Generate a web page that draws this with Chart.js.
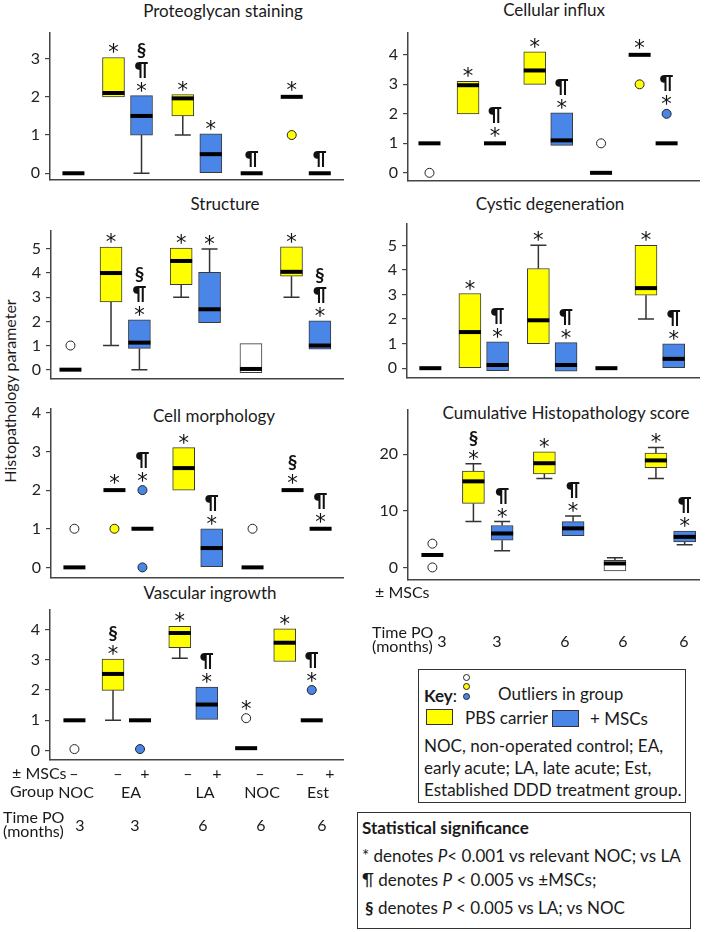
<!DOCTYPE html>
<html>
<head>
<meta charset="utf-8">
<script src="https://cdn.jsdelivr.net/npm/chart.js@4.4.1/dist/chart.umd.min.js"></script>
<style>
  body { margin: 0; background: #fff; font-family: Lato, 'Open Sans', sans-serif; color: #1a1a1a; }
  #page { position: relative; width: 709px; height: 932px; overflow: hidden; }
  #page canvas { position: absolute; }
  .c { position: absolute; white-space: nowrap; line-height: 1; transform: translate(-50%, -50%); }
  .l { position: absolute; white-space: nowrap; line-height: 1; transform: translateY(-50%); }
  .title { font-size: 17px; }
  .axis { font-size: 16px; }
  .boxtxt { font-size: 17px; }
  .frame { position: absolute; box-sizing: border-box; border: 1.5px solid #333; }
  .dot { position: absolute; width: 7px; height: 7px; border-radius: 50%; border: 1px solid #222; box-sizing: border-box; }
  .swatch { position: absolute; box-sizing: border-box; border: 1px solid #333; }
</style>
</head>
<body>
<div id="page">
  <div class="c title" style="left:223px;top:10px">Proteoglycan staining</div>
  <div class="c title" style="left:554px;top:9px">Cellular influx</div>
  <div class="c title" style="left:225px;top:203px">Structure</div>
  <div class="c title" style="left:550px;top:203px">Cystic degeneration</div>
  <div class="c title" style="left:214px;top:415px">Cell morphology</div>
  <div class="c title" style="left:566px;top:412px">Cumulative Histopathology score</div>
  <div class="c title" style="left:210px;top:592px">Vascular ingrowth</div>
  <div class="c axis" style="left:10px;top:391px;transform:translate(-50%,-50%) rotate(-90deg)">Histopathology parameter</div>

  <div class="frame" style="left:418px;top:669px;width:268px;height:134px"></div>
  <div class="l boxtxt" style="left:424px;top:695px"><b>Key</b>:</div>
  <div class="dot" style="left:463px;top:674px;background:#fff"></div>
  <div class="dot" style="left:463px;top:683px;background:#ffff00"></div>
  <div class="dot" style="left:463px;top:693px;background:#4a86e8"></div>
  <div class="l boxtxt" style="left:498px;top:693px">Outliers in group</div>
  <div class="swatch" style="left:426px;top:709px;width:27px;height:16px;background:#ffff00"></div>
  <div class="l boxtxt" style="left:465px;top:717px">PBS carrier</div>
  <div class="swatch" style="left:552px;top:710px;width:27px;height:17px;background:#4a86e8"></div>
  <div class="l boxtxt" style="left:590px;top:718px">+ MSCs</div>
  <div class="l boxtxt" style="left:424px;top:745px">NOC, non-operated control; EA,</div>
  <div class="l boxtxt" style="left:424px;top:767px">early acute; LA, late acute; Est,</div>
  <div class="l boxtxt" style="left:424px;top:789px">Established DDD treatment group.</div>

  <div class="frame" style="left:357px;top:812px;width:334px;height:117px"></div>
  <div class="l boxtxt" style="left:362px;top:827px"><b>Statistical significance</b></div>
  <div class="l boxtxt" style="left:362px;top:855px">* denotes <i>P</i>&lt; 0.001 vs relevant NOC; vs LA</div>
  <div class="l boxtxt" style="left:362px;top:879px">¶ denotes <i>P</i> &lt; 0.005 vs ±MSCs;</div>
  <div class="l boxtxt" style="left:365px;top:907px"><b>§</b> denotes <i>P</i> &lt; 0.005 vs LA; vs NOC</div>
</div>
<script>
// ---- groups (x categories) ----
const groupPos = [0, 1, 1.7, 2.73, 3.43, 4.45, 5.45, 6.15];
const carrier = ['noc', 'pbs', 'msc', 'pbs', 'msc', 'noc', 'pbs', 'msc'];
const mscSigns = ['–', '–', '+', '–', '+', '–', '–', '+'];
const groupNames = ['NOC', 'EA', 'LA', 'NOC', 'Est'];
const timePO = ['3', '3', '6', '6', '6'];

// ---- Proteoglycan staining ----
const pgTicks = [0, 1, 2, 3];
const pgMedian = [0, 2.1, 1.5, 1.96, 0.5, 0, 2, 0];
const pgBoxLo = [null, 2, 1, 1.5, 0, null, null, null];
const pgBoxHi = [null, 3.03, 2.03, 2.06, 1.03, null, null, null];
const pgWhLo = [null, null, 0, 1, null, null, null, null];
const pgWhHi = [null, null, null, null, null, null, null, null];
const pgOutliers = [[6, 1]];
const pgMarks = ['', '*', '*¶§', '*', '*', '¶', '*', '¶'];

// ---- Cellular influx ----
const ciTicks = [0, 1, 2, 3, 4];
const ciMedian = [1, 2.97, 1, 3.47, 1.1, 0, 4, 1];
const ciBoxLo = [null, 2, null, 3, 0.93, null, null, null];
const ciBoxHi = [null, 3.1, null, 4.1, 2.03, null, null, null];
const ciWhLo = [null, null, null, null, null, null, null, null];
const ciWhHi = [null, null, null, null, null, null, null, null];
const ciOutliers = [[0, 0], [5, 1], [6, 3], [7, 2]];
const ciMarks = ['', '*', '*¶', '*', '*¶', '', '*', '*¶'];

// ---- Structure ----
const stTicks = [0, 1, 2, 3, 4, 5];
const stMedian = [0, 4.0, 1.12, 4.5, 2.5, 0.03, 4.05, 1.0];
const stBoxLo = [null, 2.8, 0.88, 3.52, 1.95, -0.12, 3.87, 0.85];
const stBoxHi = [null, 5.07, 2.06, 5.03, 4.03, 1.08, 5.08, 2.02];
const stWhLo = [null, 1, 0, 3, null, null, 3, null];
const stWhHi = [null, null, null, null, 5, null, null, null];
const stOutliers = [[0, 1]];
const stMarks = ['', '*', '*¶§', '*', '*', '', '*', '*¶§'];

// ---- Cystic degeneration ----
const cdTicks = [0, 1, 2, 3, 4, 5];
const cdMedian = [0, 1.47, 0.13, 1.95, 0.13, 0, 3.26, 0.38];
const cdBoxLo = [null, 0, -0.1, 1.0, -0.12, null, 2.97, 0];
const cdBoxHi = [null, 3.04, 1.07, 4.06, 1.04, null, 5.0, 0.99];
const cdWhLo = [null, null, null, null, null, null, 2, null];
const cdWhHi = [null, null, null, 5, null, null, null, null];
const cdOutliers = [];
const cdMarks = ['', '*', '*¶', '*', '*¶', '', '*', '*¶'];

// ---- Cell morphology ----
const cmTicks = [0, 1, 2, 3, 4];
const cmMedian = [0, 2, 1, 2.57, 0.5, 0, 2, 1];
const cmBoxLo = [null, null, null, 2, 0, null, null, null];
const cmBoxHi = [null, null, null, 3.1, 1, null, null, null];
const cmWhLo = [null, null, null, null, null, null, null, null];
const cmWhHi = [null, null, null, null, null, null, null, null];
const cmOutliers = [[0, 1], [1, 1], [2, 2], [2, 0], [5, 1]];
const cmMarks = ['', '*', '*¶', '*', '*¶', '', '*§', '*¶'];

// ---- Cumulative Histopathology score ----
const cuTicks = [0, 10, 20];
const cuMedian = [2.2, 15.2, 6.0, 18.4, 6.9, 0.7, 18.9, 5.4];
const cuBoxLo = [null, 11.3, 4.8, 16.5, 5.6, -0.6, 17.6, 4.5];
const cuBoxHi = [null, 17.0, 7.4, 20.4, 8.1, 1.25, 20.2, 6.4];
const cuWhLo = [null, 8.1, 2.95, 15.7, null, null, 15.7, 4.0];
const cuWhHi = [null, 18.3, 8.1, null, 9.1, 1.7, 21.2, null];
const cuOutliers = [[0, 4.2], [0, 0]];
const cuMarks = ['', '*§', '*¶', '*', '*¶', '', '*', '*¶'];

// ---- Vascular ingrowth ----
const viTicks = [0, 1, 2, 3, 4];
const viMedian = [1, 2.53, 1, 3.88, 1.52, 0.08, 3.56, 1];
const viBoxLo = [null, 1.99, null, 3.4, 1.03, null, 2.94, null];
const viBoxHi = [null, 3.02, null, 4.1, 2.1, null, 4.02, null];
const viWhLo = [null, 1, null, 3.05, null, null, null, null];
const viWhHi = [null, null, null, null, null, null, null, null];
const viOutliers = [[0, 0.05], [2, 0.05], [5, 1.07], [7, 2]];
const viMarks = ['', '*§', '', '*', '*¶', '*', '*', '*¶'];

// ---- styling / layout ----
const fill = { noc: '#ffffff', pbs: '#ffff00', msc: '#4a86e8' };
const YW = 30, PAD = 12, PADR = 8;
const FONT = "Lato, 'Open Sans', sans-serif";
Chart.defaults.font.family = FONT;

const panels = [
  { x0: 50, x1: 350, yTop: 30, yBot: 183, xr: [-0.585, 6.73], yr: [-0.176, 3.67],
    ticks: pgTicks, median: pgMedian, boxLo: pgBoxLo, boxHi: pgBoxHi, whLo: pgWhLo, whHi: pgWhHi, outliers: pgOutliers, marks: pgMarks },
  { x0: 408, x1: 706, yTop: 30, yBot: 184, xr: [-0.557, 6.99], yr: [-0.277, 4.74],
    ticks: ciTicks, median: ciMedian, boxLo: ciBoxLo, boxHi: ciBoxHi, whLo: ciWhLo, whHi: ciWhHi, outliers: ciOutliers, marks: ciMarks },
  { x0: 51, x1: 350, yTop: 228, yBot: 382, xr: [-0.48, 6.72], yr: [-0.386, 5.74],
    ticks: stTicks, median: stMedian, boxLo: stBoxLo, boxHi: stBoxHi, whLo: stWhLo, whHi: stWhHi, outliers: stOutliers, marks: stMarks },
  { x0: 407, x1: 706, yTop: 221, yBot: 381, xr: [-0.59, 6.79], yr: [-0.40, 5.87],
    ticks: cdTicks, median: cdMedian, boxLo: cdBoxLo, boxHi: cdBoxHi, whLo: cdWhLo, whHi: cdWhHi, outliers: cdOutliers, marks: cdMarks },
  { x0: 51, x1: 350, yTop: 406, yBot: 581, xr: [-0.585, 6.71], yr: [-0.275, 4.1],
    ticks: cmTicks, median: cmMedian, boxLo: cmBoxLo, boxHi: cmBoxHi, whLo: cmWhLo, whHi: cmWhHi, outliers: cmOutliers, marks: cmMarks },
  { x0: 408, x1: 706, yTop: 407, yBot: 583, xr: [-0.595, 6.5], yr: [-2.22, 27.8],
    ticks: cuTicks, median: cuMedian, boxLo: cuBoxLo, boxHi: cuBoxHi, whLo: cuWhLo, whHi: cuWhHi, outliers: cuOutliers, marks: cuMarks },
  { x0: 50, x1: 350, yTop: 607, yBot: 763, xr: [-0.633, 6.96], yr: [-0.31, 4.64],
    ticks: viTicks, median: viMedian, boxLo: viBoxLo, boxHi: viBoxHi, whLo: viWhLo, whHi: viWhHi, outliers: viOutliers, marks: viMarks }
];

// whiskers under the boxes, significance marks on top
function boxExtras(p) {
  return {
    id: 'boxExtras',
    beforeDatasetsDraw(chart) {
      const { ctx, scales: { x, y } } = chart;
      ctx.save();
      ctx.strokeStyle = '#333';
      ctx.lineWidth = 1.5;
      p.median.forEach((m, i) => {
        const px = x.getPixelForValue(groupPos[i]);
        [[p.whLo[i], p.boxLo[i]], [p.whHi[i], p.boxHi[i]]].forEach(([w, b]) => {
          if (w === null) return;
          const wy = y.getPixelForValue(w), by = y.getPixelForValue(b);
          ctx.beginPath();
          ctx.moveTo(px, by); ctx.lineTo(px, wy);
          ctx.moveTo(px - 8, wy); ctx.lineTo(px + 8, wy);
          ctx.stroke();
        });
      });
      ctx.restore();
    },
    afterDatasetsDraw(chart) {
      const { ctx, scales: { x, y } } = chart;
      ctx.save();
      ctx.fillStyle = '#111';
      ctx.textAlign = 'center';
      ctx.textBaseline = 'alphabetic';
      p.marks.forEach((mk, i) => {
        if (!mk) return;
        const px = x.getPixelForValue(groupPos[i]);
        let top = y.getPixelForValue(p.median[i]) - 2;
        [p.boxHi[i], p.whHi[i]].forEach(v => { if (v !== null) top = Math.min(top, y.getPixelForValue(v)); });
        p.outliers.forEach(([g, v]) => { if (g === i) top = Math.min(top, y.getPixelForValue(v) - 4.5); });
        let cursor = top - 4;
        for (const ch of mk) {
          ctx.font = ch === '*' ? "21px 'DejaVu Sans', sans-serif" : 'bold 19px ' + FONT;
          const m = ctx.measureText(ch);
          const base = cursor - m.actualBoundingBoxDescent;
          ctx.fillText(ch, px, base);
          cursor = base - m.actualBoundingBoxAscent - 4;
        }
      });
      ctx.restore();
    }
  };
}

function makePanel(p) {
  const page = document.getElementById('page');
  const cv = document.createElement('canvas');
  const left = p.x0 - YW, top = p.yTop - PAD;
  const w = p.x1 + PADR - left, h = p.yBot + PAD - top;
  cv.width = w; cv.height = h;
  cv.style.left = left + 'px'; cv.style.top = top + 'px';
  cv.style.width = w + 'px'; cv.style.height = h + 'px';
  page.appendChild(cv);

  const boxes = [], boxColors = [];
  p.boxLo.forEach((lo, i) => {
    if (lo === null) return;
    boxes.push({ x: groupPos[i], y: [lo, p.boxHi[i]] });
    boxColors.push(fill[carrier[i]]);
  });
  const meds = p.median.map((m, i) => ({ x: groupPos[i], y: m }));
  const outs = p.outliers.map(([g, v]) => ({ x: groupPos[g], y: v }));
  const outColors = p.outliers.map(([g]) => fill[carrier[g]]);

  new Chart(cv, {
    type: 'scatter',
    data: {
      datasets: [
        { type: 'bar', data: boxes, backgroundColor: boxColors, borderColor: '#3a3a3a', borderWidth: 1,
          borderSkipped: false, barThickness: 22, order: 3 },
        { data: meds, pointStyle: 'line', pointRadius: 11, pointBorderWidth: 4, pointBorderColor: '#000', order: 2 },
        { data: outs, pointStyle: 'circle', pointRadius: 4.5, pointBackgroundColor: outColors,
          pointBorderColor: '#222', pointBorderWidth: 1, order: 1 }
      ]
    },
    options: {
      responsive: false,
      animation: false,
      events: [],
      devicePixelRatio: 1,
      layout: { padding: { top: PAD, right: PADR, bottom: PAD, left: 0 } },
      plugins: { legend: { display: false }, tooltip: { enabled: false } },
      scales: {
        x: {
          type: 'linear', min: p.xr[0], max: p.xr[1], offset: false,
          ticks: { display: false },
          grid: { display: false, drawTicks: false },
          border: { color: '#444', width: 1.5 },
          afterFit: s => { s.height = 0; }
        },
        y: {
          type: 'linear', min: p.yr[0], max: p.yr[1],
          afterBuildTicks: s => { s.ticks = p.ticks.map(v => ({ value: v })); },
          afterFit: s => { s.width = YW; },
          ticks: { font: { size: 16 }, color: '#222', padding: 5 },
          grid: { drawOnChartArea: false, drawTicks: true, tickLength: 5, color: '#444', lineWidth: 1.2 },
          border: { color: '#444', width: 1.5 }
        }
      }
    },
    plugins: [boxExtras(p)]
  });
}
panels.forEach(makePanel);

// ---- label rows under the plots ----
const signX = [74, 118, 145, 188, 217, 260, 300, 330];
const groupX = [76, 131, 205, 262, 318];
const timeXLeft = [80, 135, 203, 261, 322];
const timeXRight = [442, 497, 565, 623, 684];
function addText(txt, x, y, cls) {
  const d = document.createElement('div');
  d.className = cls;
  d.textContent = txt;
  d.style.left = x + 'px'; d.style.top = y + 'px';
  document.getElementById('page').appendChild(d);
}
addText('± MSCs', 12, 773, 'l axis');
mscSigns.forEach((s, i) => addText(s, signX[i], 773, 'c axis'));
addText('Group', 10, 791, 'l axis');
groupNames.forEach((g, i) => addText(g, groupX[i], 792, 'c axis'));
addText('Time PO', 3, 817, 'l axis');
addText('(months)', 3, 831, 'l axis');
timePO.forEach((t, i) => addText(t, timeXLeft[i], 825, 'c axis'));
addText('± MSCs', 375, 592, 'l axis');
addText('Time PO', 372, 632, 'l axis');
addText('(months)', 372, 646, 'l axis');
timePO.forEach((t, i) => addText(t, timeXRight[i], 641, 'c axis'));
</script>
</body>
</html>
